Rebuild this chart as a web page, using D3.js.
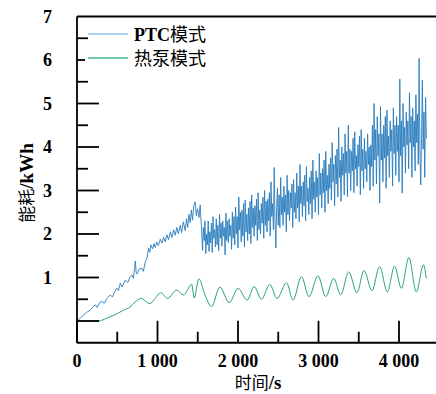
<!DOCTYPE html>
<html><head><meta charset="utf-8">
<script src="https://cdn.jsdelivr.net/npm/d3@7"></script>
<style>body{margin:0;background:#fff}</style>
</head><body><svg id="c" width="436" height="394"></svg>
<script>
// PTC mode energy consumption [time s, kWh]
const ptcData = [
[0,0],[40,0.07],[83,0.14],[120,0.2],[165,0.25],[200,0.33],[227,0.37],[250,0.31],[280,0.42],[310,0.45],[340,0.41],[370,0.52],[414,0.6],[440,0.55],[470,0.68],[496,0.75],[515,0.7],[538,0.87],[560,0.78],[600,0.94],[630,0.88],[660,1.02],[682,1.06],[700,0.98],[715,1.2],[724,1.38],[735,1.12],[745,1.08],[775,1.2],[806,1.21],[825,1.14],[848,1.36],[870,1.45],[889,1.67],[905,1.58],[918,1.75],[940,1.66],[955,1.78],[972,1.69],[990,1.82],[1010,1.73],[1034,1.88],[1055,1.79],[1075,1.93],[1095,1.82],[1117,1.98],[1137,1.87],[1160,2.05],[1180,1.92],[1200,2.1],[1220,1.97],[1240,2.15],[1260,2.0],[1282,2.2],[1300,2.03],[1320,2.28],[1344,2.08],[1360,2.35],[1375,2.15],[1390,2.45],[1406,2.26],[1420,2.55],[1435,2.32],[1450,2.65],[1468,2.74],[1482,2.42],[1497,2.58],[1515,2.38],[1530,2.67],[1545,2.2],
[1560,1.62],[1570,2.15],[1580,1.85],[1590,2.3],[1600,1.55],[1610,2.0],[1620,1.75],[1630,2.3],[1640,1.6],[1650,2.05],[1660,1.8],[1670,2.25],[1680,1.58],[1690,2.4],[1700,1.9],[1710,2.1],[1720,1.7],[1730,2.35],[1740,1.75],[1750,2.2],
[1760,1.62],[1770,2.45],[1780,1.9],[1790,2.25],[1800,1.72],[1810,2.3],[1820,1.95],[1830,2.15],[1840,1.52],[1850,2.48],[1860,1.85],[1870,2.3],[1880,1.8],[1890,2.35],[1900,1.95],[1910,2.2],[1920,1.65],[1930,2.5],[1940,1.9],[1950,2.4],
[1960,1.75],[1970,2.62],[1980,2.0],[1990,2.4],[2000,1.68],[2010,2.85],[2020,2.1],[2030,2.5],[2040,1.82],[2050,2.55],[2060,1.95],[2070,2.7],[2080,1.7],[2090,2.78],[2100,2.05],[2110,2.45],[2120,1.85],[2130,2.6],[2140,2.0],[2150,2.75],
[2160,1.78],[2170,2.9],[2180,2.15],[2190,2.6],[2200,1.95],[2210,2.65],[2220,2.2],[2230,2.8],[2240,1.85],[2250,2.95],[2260,2.1],[2270,2.55],[2280,2.0],[2290,2.7],[2300,2.25],[2310,2.85],[2320,1.9],[2330,3.0],[2340,2.2],[2350,2.75],
[2360,2.05],[2370,2.8],[2380,2.3],[2390,2.95],[2400,1.95],[2410,3.2],[2420,2.4],[2430,2.7],[2440,2.1],[2450,3.53],[2460,2.3],[2470,1.68],[2480,2.6],[2490,3.05],[2500,2.2],[2510,2.9],[2520,2.15],[2530,3.3],[2540,2.45],[2550,2.85],
[2560,2.2],[2570,3.1],[2580,2.5],[2590,2.9],[2600,2.05],[2610,3.35],[2620,2.45],[2630,3.0],[2640,2.3],[2650,2.95],[2660,2.6],[2670,3.15],[2680,2.15],[2690,3.25],[2700,2.5],[2710,2.95],[2720,2.35],[2730,3.4],[2740,2.6],[2750,3.1],
[2760,2.28],[2770,3.6],[2780,2.7],[2790,3.1],[2800,2.4],[2810,3.2],[2820,2.65],[2830,3.35],[2840,2.3],[2850,3.55],[2860,2.75],[2870,3.05],[2880,2.45],[2890,3.3],[2900,2.7],[2910,3.45],[2920,2.35],[2930,3.7],[2940,2.8],[2950,3.2],
[2960,2.5],[2970,3.45],[2980,2.85],[2990,3.3],[3000,2.44],[3010,3.85],[3020,2.9],[3030,3.4],[3040,2.6],[3050,3.5],[3060,2.95],[3070,3.7],[3080,2.5],[3090,3.9],[3100,3.0],[3110,3.35],[3120,2.7],[3130,3.6],[3140,3.05],[3150,3.75],
[3160,2.78],[3170,4.1],[3180,3.2],[3190,3.6],[3200,2.65],[3210,3.8],[3220,3.15],[3230,3.95],[3240,2.85],[3250,4.45],[3260,3.3],[3270,3.7],[3280,2.75],[3290,4.0],[3300,3.35],[3310,3.85],[3320,2.9],[3330,4.3],[3340,3.4],[3350,3.9],
[3360,2.86],[3370,4.5],[3380,3.4],[3390,3.95],[3400,3.0],[3410,3.9],[3420,3.45],[3430,4.2],[3440,2.95],[3450,4.35],[3460,3.5],[3470,3.8],[3480,3.1],[3490,4.05],[3500,3.55],[3510,4.25],[3520,2.9],[3530,4.4],[3540,3.45],[3550,3.95],
[3560,3.05],[3570,4.2],[3580,3.5],[3590,3.9],[3600,3.2],[3610,4.3],[3620,3.6],[3630,4.0],[3640,3.0],[3650,4.05],[3660,3.55],[3670,4.5],[3680,3.1],[3690,5.0],[3700,3.7],[3710,4.4],[3720,3.15],[3730,4.7],[3740,3.8],[3750,4.3],
[3760,2.71],[3770,4.93],[3780,3.7],[3790,4.3],[3800,3.2],[3810,4.5],[3820,3.75],[3830,4.7],[3840,3.05],[3850,4.85],[3860,3.8],[3870,4.25],[3880,3.3],[3890,4.6],[3900,3.9],[3910,4.4],[3920,3.1],[3930,4.9],[3940,3.85],[3950,4.5],
[3960,3.35],[3970,4.7],[3980,3.9],[3990,4.5],[4000,3.2],[4010,5.56],[4020,3.8],[4030,4.6],[4040,2.94],[4050,5.0],[4060,4.0],[4070,4.45],[4080,3.4],[4090,4.8],[4100,4.05],[4110,4.6],[4120,3.5],[4130,5.25],[4140,4.1],[4150,4.7],
[4160,3.3],[4170,4.9],[4180,4.0],[4190,4.6],[4200,3.45],[4210,5.2],[4220,4.1],[4230,4.75],[4240,3.6],[4250,6.04],[4260,3.9],[4270,3.13],[4280,4.2],[4290,5.54],[4300,3.95],[4310,4.8],[4320,3.3],[4330,5.14],[4340,4.2]
];
// Heat pump mode energy consumption [time s, kWh]
const hpData = [
[0,0],[270,0],[340,0.04],[414,0.1],[500,0.17],[579,0.25],[658,0.32],[724,0.44],[802,0.52],[860,0.44],[906,0.4],[970,0.52],[1040,0.65],[1125,0.52],[1237,0.71],[1322,0.6],[1425,0.84],[1456,0.53],[1514,0.97],[1590,0.6],[1671,0.33],[1775,0.78],[1890,0.42],[2001,0.75],[2113,0.48],[2200,0.79],[2292,0.5],[2395,0.84],[2485,0.52],[2602,0.88],[2684,0.48],[2788,1.02],[2882,0.56],[2994,1.04],[3089,0.56],[3189,0.98],[3275,0.6],[3375,1.13],[3478,0.65],[3565,1.16],[3664,0.7],[3759,1.25],[3855,0.67],[3945,1.26],[4029,0.75],[4123,1.46],[4215,0.67],[4305,1.29],[4339,0.98]
];
const xMajor = [0,1000,2000,3000,4000];
const xMinor = [500,1500,2500,3500];
const xTickLabels = ["0","1 000","2 000","3 000","4 000"];
const yMajor = [0,1,2,3,4,5,6];
const yMinor = [0.5,1.5,2.5,3.5,4.5,5.5,6.5];
const yTickLabels = ["1","2","3","4","5","6","7"];
const legendItems = [
  {latin:"PTC", cjk:"模式", color:"#8fc0e3"},
  {latin:"", cjk:"热泵模式", color:"#3fb58c"}
];

const svg = d3.select("#c");
const serif = "'Liberation Serif','Times New Roman',serif";
const cjk = "'Noto Sans CJK SC','Noto Sans CJK JP',sans-serif";
const x = d3.scaleLinear().domain([0,4000]).range([77,399]);
const y = d3.scaleLinear().domain([0,7]).range([321,16.5]);
const L = 77, R = 436, T = y(7), B = y(-0.5);

svg.append("defs").append("clipPath").attr("id","clip")
  .append("rect").attr("x",L).attr("y",T).attr("width",R-L).attr("height",B-T);

const g = svg.append("g").attr("clip-path","url(#clip)");
const linePtc = d3.line().x(d=>x(d[0])).y(d=>y(d[1]));
const lineHp = d3.line().x(d=>x(d[0])).y(d=>y(d[1])).curve(d3.curveMonotoneX);

g.append("path").datum(ptcData).attr("d",linePtc)
  .attr("fill","none").attr("stroke","#2a7dbd").attr("stroke-width",0.9).attr("stroke-linejoin","round");
g.append("path").datum(hpData).attr("d",lineHp)
  .attr("fill","none").attr("stroke","#27a27b").attr("stroke-width",1);

// frame
const ax = svg.append("g").attr("stroke","#000").attr("stroke-width",1.8);
ax.append("line").attr("x1",L).attr("x2",L).attr("y1",T).attr("y2",B);
ax.append("line").attr("x1",L).attr("x2",R).attr("y1",B).attr("y2",B);
ax.append("line").attr("x1",L).attr("x2",R).attr("y1",T).attr("y2",T);

// y ticks (inward)
yMajor.forEach(v=>ax.append("line").attr("x1",L).attr("x2",L+22).attr("y1",y(v)).attr("y2",y(v)));
yMinor.forEach(v=>ax.append("line").attr("x1",L).attr("x2",L+11).attr("y1",y(v)).attr("y2",y(v)));
// x ticks (inward)
xMajor.forEach(v=>ax.append("line").attr("x1",x(v)).attr("x2",x(v)).attr("y1",B).attr("y2",B-22));
xMinor.forEach(v=>ax.append("line").attr("x1",x(v)).attr("x2",x(v)).attr("y1",B).attr("y2",B-11));

// tick labels
svg.append("g").selectAll("text").data(yTickLabels).join("text")
  .attr("x",52).attr("y",(d,i)=>y(i+1)).attr("dy","0.35em")
  .attr("text-anchor","end").attr("font-family",serif).attr("font-weight","bold")
  .attr("font-size",18).text(d=>d);
svg.append("g").selectAll("text").data(xTickLabels).join("text")
  .attr("x",(d,i)=>x(xMajor[i])).attr("y",366.5)
  .attr("text-anchor","middle").attr("font-family",serif).attr("font-weight","bold")
  .attr("font-size",18).text(d=>d);

// axis titles
const xt = svg.append("text").attr("x",258).attr("y",389).attr("text-anchor","middle");
xt.append("tspan").attr("font-family",cjk).attr("font-size",17).text("时间");
xt.append("tspan").attr("font-family",serif).attr("font-weight","bold").attr("font-size",19).text("/s");
const yt = svg.append("text").attr("transform","translate(33,183) rotate(-90)").attr("text-anchor","middle");
yt.append("tspan").attr("font-family",cjk).attr("font-size",17).text("能耗");
yt.append("tspan").attr("font-family",serif).attr("font-weight","bold").attr("font-size",19).text("/kWh");

// legend
svg.append("rect").attr("x",85).attr("y",44).attr("width",135).attr("height",30).attr("fill","#fff");
legendItems.forEach((d,i)=>{
  const yy = 34 + i*24;
  svg.append("line").attr("x1",88).attr("x2",128).attr("y1",yy).attr("y2",yy)
    .attr("stroke",d.color).attr("stroke-width",1.4);
  const t = svg.append("text").attr("x",134).attr("y",yy+6.5);
  if (d.latin) t.append("tspan").attr("font-family",serif).attr("font-weight","bold").attr("font-size",18).text(d.latin);
  t.append("tspan").attr("font-family",cjk).attr("font-size",18).text(d.cjk);
});
</script>
</body></html>
